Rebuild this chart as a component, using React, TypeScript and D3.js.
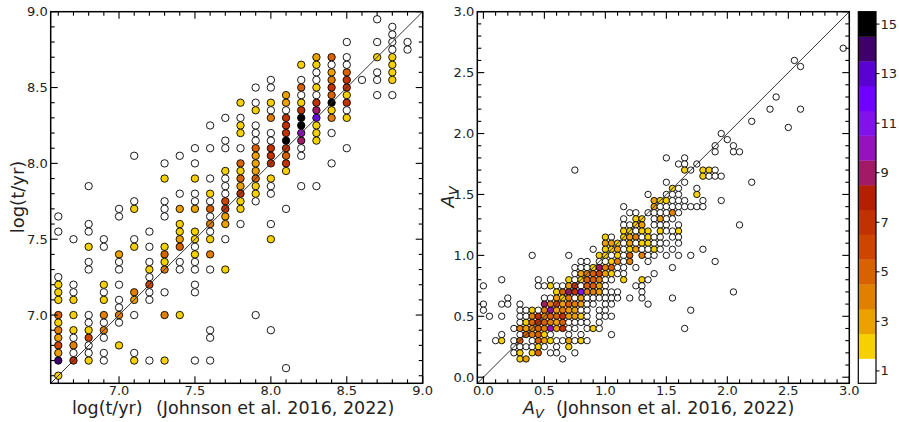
import React from 'react';
import * as d3 from 'd3';

// Age comparison: [log t (Johnson), log t (this work), number of clusters]
const agePoints: [number, number, number][] = [
  [6.6, 7.65, 1], [6.6, 7.55, 1], [6.6, 7.25, 1], [6.6, 7.2, 2], [6.6, 7.15, 2], [6.6, 7.1, 2], [6.6, 7.0, 5], [6.6, 6.95, 2], [6.6, 6.9, 4], [6.6, 6.85, 3], [6.6, 6.8, 6], [6.6, 6.75, 3], [6.6, 6.7, 14], [6.6, 6.6, 2],
  [6.7, 7.5, 1], [6.7, 7.2, 1], [6.7, 7.15, 1], [6.7, 7.1, 2], [6.7, 7.0, 2], [6.7, 6.9, 2], [6.7, 6.85, 1], [6.7, 6.8, 4], [6.7, 6.75, 1], [6.7, 6.7, 7],
  [6.8, 7.85, 1], [6.8, 7.6, 1], [6.8, 7.55, 1], [6.8, 7.45, 2], [6.8, 7.35, 1], [6.8, 7.3, 1], [6.8, 7.0, 1], [6.8, 6.95, 1], [6.8, 6.9, 2], [6.8, 6.85, 6], [6.8, 6.8, 1], [6.8, 6.75, 1], [6.8, 6.7, 2],
  [6.9, 7.5, 1], [6.9, 7.45, 1], [6.9, 7.2, 2], [6.9, 7.15, 1], [6.9, 7.1, 2], [6.9, 7.0, 4], [6.9, 6.95, 1], [6.9, 6.9, 4], [6.9, 6.85, 1], [6.9, 6.75, 1], [6.9, 6.7, 1],
  [7.0, 7.7, 1], [7.0, 7.65, 1], [7.0, 7.4, 3], [7.0, 7.35, 1], [7.0, 7.3, 1], [7.0, 7.2, 1], [7.0, 7.1, 1], [7.0, 7.05, 1], [7.0, 7.0, 4], [7.0, 6.95, 1], [7.0, 6.8, 2],
  [7.1, 8.05, 1], [7.1, 7.75, 1], [7.1, 7.7, 2], [7.1, 7.5, 1], [7.1, 7.45, 2], [7.1, 7.15, 4], [7.1, 7.1, 3], [7.1, 7.0, 1], [7.1, 6.75, 1], [7.1, 6.7, 2],
  [7.2, 7.55, 1], [7.2, 7.45, 1], [7.2, 7.35, 1], [7.2, 7.3, 2], [7.2, 7.25, 1], [7.2, 7.2, 6], [7.2, 7.15, 1], [7.2, 7.1, 1], [7.2, 6.7, 1],
  [7.3, 8.0, 1], [7.3, 7.9, 2], [7.3, 7.75, 1], [7.3, 7.7, 1], [7.3, 7.65, 1], [7.3, 7.45, 2], [7.3, 7.4, 5], [7.3, 7.35, 2], [7.3, 7.3, 4], [7.3, 7.15, 1], [7.3, 7.0, 4], [7.3, 6.7, 2],
  [7.4, 8.05, 1], [7.4, 7.8, 1], [7.4, 7.7, 3], [7.4, 7.6, 2], [7.4, 7.55, 2], [7.4, 7.5, 3], [7.4, 7.45, 5], [7.4, 7.35, 1], [7.4, 7.3, 1], [7.4, 7.0, 2],
  [7.5, 8.1, 1], [7.5, 8.0, 1], [7.5, 7.9, 2], [7.5, 7.8, 1], [7.5, 7.75, 1], [7.5, 7.7, 3], [7.5, 7.55, 2], [7.5, 7.5, 2], [7.5, 7.45, 1], [7.5, 7.4, 2], [7.5, 7.35, 1], [7.5, 7.3, 1], [7.5, 7.2, 1], [7.5, 7.15, 1], [7.5, 6.7, 1],
  [7.6, 8.25, 1], [7.6, 8.1, 1], [7.6, 7.9, 1], [7.6, 7.8, 2], [7.6, 7.75, 1], [7.6, 7.7, 5], [7.6, 7.65, 1], [7.6, 7.6, 4], [7.6, 7.55, 1], [7.6, 7.5, 2], [7.6, 7.4, 4], [7.6, 7.3, 1], [7.6, 6.9, 1], [7.6, 6.85, 1], [7.6, 6.7, 1],
  [7.7, 8.3, 1], [7.7, 8.15, 1], [7.7, 8.1, 1], [7.7, 7.95, 2], [7.7, 7.9, 1], [7.7, 7.85, 1], [7.7, 7.8, 1], [7.7, 7.75, 6], [7.7, 7.7, 7], [7.7, 7.65, 3], [7.7, 7.6, 3], [7.7, 7.5, 1], [7.7, 7.3, 2],
  [7.8, 8.4, 2], [7.8, 8.3, 1], [7.8, 8.25, 2], [7.8, 8.2, 2], [7.8, 8.1, 1], [7.8, 8.0, 5], [7.8, 7.95, 2], [7.8, 7.9, 5], [7.8, 7.85, 3], [7.8, 7.8, 7], [7.8, 7.75, 2], [7.8, 7.7, 2], [7.8, 7.6, 1],
  [7.9, 8.5, 1], [7.9, 8.4, 1], [7.9, 8.35, 2], [7.9, 8.25, 1], [7.9, 8.2, 1], [7.9, 8.15, 1], [7.9, 8.1, 5], [7.9, 8.05, 3], [7.9, 8.0, 3], [7.9, 7.95, 3], [7.9, 7.9, 5], [7.9, 7.85, 2], [7.9, 7.8, 2], [7.9, 7.75, 1], [7.9, 7.0, 1],
  [8.0, 8.55, 1], [8.0, 8.5, 1], [8.0, 8.4, 2], [8.0, 8.35, 1], [8.0, 8.3, 4], [8.0, 8.2, 1], [8.0, 8.15, 1], [8.0, 8.1, 7], [8.0, 8.05, 7], [8.0, 8.0, 7], [8.0, 7.9, 2], [8.0, 7.85, 1], [8.0, 7.8, 1], [8.0, 7.6, 1], [8.0, 7.5, 2], [8.0, 6.9, 1],
  [8.1, 8.45, 3], [8.1, 8.4, 3], [8.1, 8.35, 1], [8.1, 8.3, 7], [8.1, 8.25, 7], [8.1, 8.2, 7], [8.1, 8.15, 15], [8.1, 8.1, 7], [8.1, 8.05, 5], [8.1, 8.0, 7], [8.1, 7.95, 2], [8.1, 7.7, 1], [8.1, 6.65, 1],
  [8.2, 8.65, 2], [8.2, 8.55, 1], [8.2, 8.5, 5], [8.2, 8.45, 1], [8.2, 8.4, 2], [8.2, 8.35, 7], [8.2, 8.3, 15], [8.2, 8.25, 15], [8.2, 8.2, 10], [8.2, 8.15, 9], [8.2, 8.1, 1], [8.2, 8.05, 1], [8.2, 7.85, 1],
  [8.3, 8.7, 3], [8.3, 8.65, 2], [8.3, 8.6, 1], [8.3, 8.55, 1], [8.3, 8.5, 2], [8.3, 8.45, 1], [8.3, 8.4, 7], [8.3, 8.35, 9], [8.3, 8.3, 12], [8.3, 8.25, 2], [8.3, 8.2, 2], [8.3, 8.15, 2], [8.3, 7.85, 1],
  [8.4, 8.7, 5], [8.4, 8.65, 1], [8.4, 8.6, 3], [8.4, 8.55, 4], [8.4, 8.5, 7], [8.4, 8.45, 5], [8.4, 8.4, 15], [8.4, 8.35, 2], [8.4, 8.3, 4], [8.4, 8.2, 1], [8.4, 8.0, 1],
  [8.5, 8.8, 1], [8.5, 8.7, 1], [8.5, 8.65, 1], [8.5, 8.6, 5], [8.5, 8.55, 7], [8.5, 8.5, 7], [8.5, 8.45, 2], [8.5, 8.4, 7], [8.5, 8.35, 1], [8.5, 8.3, 2], [8.5, 8.1, 1],
  [8.6, 8.55, 1],
  [8.7, 8.95, 1], [8.7, 8.8, 1], [8.7, 8.7, 2], [8.7, 8.6, 1], [8.7, 8.55, 1], [8.7, 8.45, 1],
  [8.8, 8.9, 1], [8.8, 8.85, 1], [8.8, 8.8, 1], [8.8, 8.75, 1], [8.8, 8.7, 2], [8.8, 8.65, 2], [8.8, 8.6, 2], [8.8, 8.55, 2], [8.8, 8.45, 1],
  [8.9, 8.8, 1], [8.9, 8.75, 1],
];

// Extinction comparison: [A_V (Johnson), A_V (this work), number of clusters]
const avPoints: [number, number, number][] = [
  [2.95, 2.7, 1], [2.55, 2.6, 1], [2.6, 2.55, 1], [2.4, 2.3, 1], [2.35, 2.2, 1], [2.6, 2.2, 1], [2.2, 2.1, 1], [2.5, 2.05, 1],
  [1.95, 2.0, 1], [2.0, 1.95, 1], [1.9, 1.9, 1], [2.05, 1.9, 1], [1.9, 1.85, 1], [2.05, 1.85, 1], [2.1, 1.85, 1],
  [1.5, 1.8, 1], [1.65, 1.8, 1], [1.6, 1.75, 1], [1.65, 1.75, 1], [1.75, 1.75, 1],
  [0.75, 1.7, 1], [1.65, 1.7, 2], [1.7, 1.7, 1], [1.8, 1.7, 2], [1.85, 1.7, 2], [1.9, 1.7, 1],
  [1.8, 1.65, 2], [1.85, 1.65, 1], [1.9, 1.65, 1], [1.95, 1.65, 1],
  [1.5, 1.6, 1], [1.65, 1.6, 1], [2.2, 1.6, 1],
  [1.55, 1.55, 2], [1.6, 1.55, 1], [1.75, 1.55, 1],
  [1.35, 1.5, 1], [1.5, 1.5, 1], [1.55, 1.5, 1], [1.6, 1.5, 1], [1.75, 1.5, 2],
  [1.4, 1.45, 3], [1.45, 1.45, 2], [1.5, 1.45, 2], [1.55, 1.45, 1], [1.6, 1.45, 1], [1.65, 1.45, 1], [1.8, 1.45, 1], [1.95, 1.45, 1],
  [1.15, 1.4, 1], [1.4, 1.4, 3], [1.45, 1.4, 1], [1.5, 1.4, 1], [1.55, 1.4, 1], [1.6, 1.4, 1], [1.65, 1.4, 1], [1.7, 1.4, 1], [1.75, 1.4, 1], [1.8, 1.4, 1],
  [1.2, 1.35, 1], [1.25, 1.35, 1], [1.35, 1.35, 1], [1.4, 1.35, 1], [1.45, 1.35, 1], [1.5, 1.35, 1], [1.55, 1.35, 4], [1.6, 1.35, 1],
  [1.15, 1.3, 1], [1.25, 1.3, 2], [1.3, 1.3, 2], [1.4, 1.3, 1], [1.45, 1.3, 3], [1.5, 1.3, 1], [1.55, 1.3, 1],
  [1.15, 1.25, 1], [1.2, 1.25, 1], [1.25, 1.25, 2], [1.3, 1.25, 3], [1.4, 1.25, 1], [1.45, 1.25, 1], [1.5, 1.25, 1], [1.6, 1.25, 1], [2.1, 1.25, 1],
  [1.15, 1.2, 2], [1.2, 1.2, 2], [1.25, 1.2, 1], [1.3, 1.2, 2], [1.35, 1.2, 2], [1.45, 1.2, 2], [1.5, 1.2, 1], [1.55, 1.2, 1], [1.6, 1.2, 2],
  [1.0, 1.15, 2], [1.05, 1.15, 1], [1.15, 1.15, 2], [1.2, 1.15, 3], [1.25, 1.15, 4], [1.3, 1.15, 1], [1.35, 1.15, 2], [1.4, 1.15, 1], [1.45, 1.15, 1], [1.55, 1.15, 1], [1.6, 1.15, 1],
  [1.0, 1.1, 3], [1.05, 1.1, 3], [1.1, 1.1, 2], [1.15, 1.1, 1], [1.2, 1.1, 3], [1.25, 1.1, 1], [1.3, 1.1, 2], [1.35, 1.1, 2], [1.4, 1.1, 1], [1.45, 1.1, 1], [1.5, 1.1, 1], [1.6, 1.1, 1],
  [0.9, 1.05, 1], [1.0, 1.05, 2], [1.05, 1.05, 2], [1.1, 1.05, 3], [1.15, 1.05, 1], [1.2, 1.05, 2], [1.25, 1.05, 3], [1.3, 1.05, 1], [1.35, 1.05, 1], [1.4, 1.05, 2], [1.45, 1.05, 1], [1.55, 1.05, 1], [1.8, 1.05, 1],
  [0.4, 1.0, 1], [0.7, 1.0, 1], [0.95, 1.0, 2], [1.0, 1.0, 2], [1.05, 1.0, 1], [1.1, 1.0, 2], [1.15, 1.0, 1], [1.2, 1.0, 5], [1.3, 1.0, 4], [1.35, 1.0, 1], [1.4, 1.0, 1], [1.5, 1.0, 1], [1.6, 1.0, 1], [1.7, 1.0, 1],
  [0.8, 0.95, 1], [0.85, 0.95, 1], [0.95, 0.95, 1], [1.0, 0.95, 1], [1.05, 0.95, 2], [1.1, 0.95, 4], [1.15, 0.95, 1], [1.2, 0.95, 4], [1.35, 0.95, 1], [1.9, 0.95, 1],
  [0.75, 0.9, 1], [0.8, 0.9, 1], [0.85, 0.9, 1], [0.9, 0.9, 2], [0.95, 0.9, 9], [1.0, 0.9, 4], [1.05, 0.9, 5], [1.1, 0.9, 1], [1.15, 0.9, 1], [1.25, 0.9, 1], [1.55, 0.9, 1],
  [0.75, 0.85, 1], [0.8, 0.85, 3], [0.85, 0.85, 4], [0.9, 0.85, 5], [0.95, 0.85, 6], [1.0, 0.85, 3], [1.05, 0.85, 2], [1.1, 0.85, 1], [1.15, 0.85, 1], [1.4, 0.85, 1],
  [0.15, 0.8, 1], [0.45, 0.8, 1], [0.55, 0.8, 1], [0.7, 0.8, 2], [0.75, 0.8, 1], [0.8, 0.8, 2], [0.85, 0.8, 5], [0.9, 0.8, 5], [0.95, 0.8, 4], [1.0, 0.8, 1], [1.05, 0.8, 1], [1.15, 0.8, 2], [1.3, 0.8, 2], [1.35, 0.8, 1],
  [0.0, 0.75, 1], [0.45, 0.75, 1], [0.5, 0.75, 1], [0.55, 0.75, 2], [0.6, 0.75, 1], [0.65, 0.75, 1], [0.7, 0.75, 3], [0.75, 0.75, 7], [0.8, 0.75, 1], [0.85, 0.75, 5], [0.9, 0.75, 5], [0.95, 0.75, 3], [1.0, 0.75, 1], [1.25, 0.75, 1], [1.3, 0.75, 1],
  [0.6, 0.7, 2], [0.65, 0.7, 5], [0.7, 0.7, 9], [0.75, 0.7, 7], [0.8, 0.7, 11], [0.85, 0.7, 4], [0.9, 0.7, 4], [0.95, 0.7, 3], [1.0, 0.7, 1], [1.05, 0.7, 1], [1.1, 0.7, 1], [1.3, 0.7, 1], [2.05, 0.7, 1],
  [0.2, 0.65, 1], [0.5, 0.65, 1], [0.55, 0.65, 1], [0.6, 0.65, 3], [0.65, 0.65, 2], [0.7, 0.65, 4], [0.75, 0.65, 1], [0.8, 0.65, 3], [0.85, 0.65, 1], [0.9, 0.65, 1], [0.95, 0.65, 1], [1.0, 0.65, 1], [1.05, 0.65, 1], [1.1, 0.65, 1], [1.2, 0.65, 1], [1.3, 0.65, 1], [1.55, 0.65, 1],
  [0.0, 0.6, 1], [0.15, 0.6, 1], [0.2, 0.6, 1], [0.3, 0.6, 1], [0.5, 0.6, 9], [0.55, 0.6, 4], [0.6, 0.6, 6], [0.65, 0.6, 3], [0.7, 0.6, 5], [0.75, 0.6, 4], [0.8, 0.6, 3], [0.85, 0.6, 1], [0.9, 0.6, 1], [1.0, 0.6, 1], [1.05, 0.6, 1], [1.35, 0.6, 1],
  [0.0, 0.55, 1], [0.3, 0.55, 1], [0.35, 0.55, 1], [0.4, 0.55, 2], [0.45, 0.55, 1], [0.5, 0.55, 4], [0.55, 0.55, 10], [0.6, 0.55, 3], [0.65, 0.55, 4], [0.7, 0.55, 3], [0.75, 0.55, 3], [0.8, 0.55, 1], [0.85, 0.55, 1], [0.95, 0.55, 1], [1.0, 0.55, 1], [1.7, 0.55, 1],
  [0.05, 0.5, 1], [0.15, 0.5, 1], [0.3, 0.5, 1], [0.35, 0.5, 1], [0.4, 0.5, 4], [0.45, 0.5, 7], [0.5, 0.5, 4], [0.55, 0.5, 5], [0.6, 0.5, 5], [0.65, 0.5, 7], [0.7, 0.5, 3], [0.75, 0.5, 3], [0.8, 0.5, 2], [0.85, 0.5, 1], [0.95, 0.5, 1], [1.0, 0.5, 1], [1.05, 0.5, 1],
  [0.3, 0.45, 1], [0.35, 0.45, 2], [0.4, 0.45, 5], [0.45, 0.45, 7], [0.5, 0.45, 5], [0.55, 0.45, 4], [0.6, 0.45, 3], [0.65, 0.45, 5], [0.7, 0.45, 1], [0.75, 0.45, 1], [0.8, 0.45, 1], [0.85, 0.45, 1], [0.95, 0.45, 1],
  [0.25, 0.4, 1], [0.3, 0.4, 4], [0.35, 0.4, 3], [0.4, 0.4, 4], [0.45, 0.4, 5], [0.5, 0.4, 4], [0.55, 0.4, 10], [0.6, 0.4, 3], [0.65, 0.4, 7], [0.7, 0.4, 1], [0.75, 0.4, 1], [0.85, 0.4, 1], [0.9, 0.4, 2], [0.95, 0.4, 1], [1.65, 0.4, 1],
  [0.15, 0.35, 1], [0.3, 0.35, 1], [0.35, 0.35, 5], [0.4, 0.35, 4], [0.45, 0.35, 5], [0.5, 0.35, 2], [0.55, 0.35, 1], [0.7, 0.35, 1], [0.8, 0.35, 1], [1.05, 0.35, 1],
  [0.1, 0.3, 1], [0.15, 0.3, 2], [0.25, 0.3, 1], [0.3, 0.3, 5], [0.4, 0.3, 1], [0.45, 0.3, 5], [0.5, 0.3, 3], [0.55, 0.3, 2], [0.6, 0.3, 1], [0.65, 0.3, 1], [0.7, 0.3, 3], [0.75, 0.3, 1], [0.8, 0.3, 2], [0.85, 0.3, 1],
  [0.25, 0.25, 1], [0.3, 0.25, 1], [0.35, 0.25, 1], [0.4, 0.25, 1], [0.45, 0.25, 2], [0.5, 0.25, 1], [0.6, 0.25, 1], [0.7, 0.25, 2],
  [0.25, 0.2, 1], [0.3, 0.2, 2], [0.4, 0.2, 2], [0.45, 0.2, 5], [0.55, 0.2, 1], [0.6, 0.2, 1], [0.75, 0.2, 1],
  [0.3, 0.15, 2], [0.35, 0.15, 3], [0.65, 0.15, 1],
];

// Discrete colour scale for counts 1..15
const countColors = [
  '#ffffff', '#f6d000', '#eca100', '#e17f00', '#d86200', '#cc4600', '#c03200', '#b22000',
  '#a21a66', '#9612bc', '#8410ea', '#7000ff', '#5a02d2', '#3f006e', '#000000',
];
const countLevels = d3.range(1, 16);
const countTicks = [1, 3, 5, 7, 9, 11, 13, 15];

const ageMajor = [7.0, 7.5, 8.0, 8.5, 9.0];
const ageMinor = d3.range(66, 91).map((v) => v / 10);
const avMajor = [0.0, 0.5, 1.0, 1.5, 2.0, 2.5, 3.0];
const avMinor = d3.range(0, 31).map((v) => v / 10);

const FONT = 'DejaVu Sans, sans-serif';
const TOP = 11.7;
const BOTTOM = 383.3;

type PanelProps = {
  x0: number;
  x1: number;
  domain: [number, number];
  points: [number, number, number][];
  major: number[];
  minor: number[];
  radius: number;
};

function Panel({ x0, x1, domain, points, major, minor, radius }: PanelProps) {
  const xs = d3.scaleLinear().domain(domain).range([x0, x1]);
  const ys = d3.scaleLinear().domain(domain).range([BOTTOM, TOP]);
  const color = d3.scaleOrdinal<number, string>().domain(countLevels).range(countColors);
  const tickLen = (v: number) => (major.some((m) => Math.abs(m - v) < 1e-6) ? 7 : 4);
  const inX = minor.filter((v) => v >= domain[0] && v <= domain[1]);
  const fmt = d3.format('.1f');
  return (
    <g>
      {points.map(([a, b, n], i) => (
        <circle key={i} cx={xs(a)} cy={ys(b)} r={radius} fill={color(n)} stroke="#000" strokeWidth={0.9} />
      ))}
      <line x1={xs(domain[0])} y1={ys(domain[0])} x2={xs(domain[1])} y2={ys(domain[1])} stroke="#333" strokeWidth={1} />
      {inX.map((v) => (
        <g key={'t' + v} stroke="#000" strokeWidth={1.1}>
          <line x1={xs(v)} x2={xs(v)} y1={BOTTOM} y2={BOTTOM - tickLen(v)} />
          <line x1={xs(v)} x2={xs(v)} y1={TOP} y2={TOP + tickLen(v)} />
          <line y1={ys(v)} y2={ys(v)} x1={x0} x2={x0 + tickLen(v)} />
          <line y1={ys(v)} y2={ys(v)} x1={x1} x2={x1 - tickLen(v)} />
        </g>
      ))}
      <rect x={x0} y={TOP} width={x1 - x0} height={BOTTOM - TOP} fill="none" stroke="#000" strokeWidth={1.5} />
      {major.map((v) => (
        <g key={'l' + v} fontFamily={FONT} fontSize={13} fill="#222">
          <text x={xs(v)} y={BOTTOM + 12} textAnchor="middle">{fmt(v)}</text>
          <text x={x0 - 3} y={ys(v) + 4.5} textAnchor="end">{fmt(v)}</text>
        </g>
      ))}
    </g>
  );
}

export default function App() {
  const cbX0 = 858.3;
  const cbX1 = 876;
  const cbScale = d3.scaleLinear().domain([0.5, 15.5]).range([BOTTOM, TOP]);
  const cbColor = d3.scaleOrdinal<number, string>().domain(countLevels).range(countColors);
  return (
    <svg width={899} height={422} style={{ position: 'absolute', left: 0, top: 0, background: '#fff' }}>
      <rect width={899} height={422} fill="#fff" />
      <Panel x0={50.7} x1={422.7} domain={[6.55, 9.0]} points={agePoints} major={ageMajor} minor={ageMinor} radius={3.7} />
      <Panel x0={477.3} x1={849.3} domain={[-0.05, 3.0]} points={avPoints} major={avMajor} minor={avMinor} radius={3.2} />

      {/* axis titles */}
      <text y={414} fontFamily={FONT} fontSize={17.5} fill="#222">
        <tspan x={72}>log(t/yr)</tspan>
        <tspan x={156}>(Johnson et al. 2016, 2022)</tspan>
      </text>
      <text transform="translate(24,197) rotate(-90)" textAnchor="middle" fontFamily={FONT} fontSize={18} fill="#222">
        log(t/yr)
      </text>
      <text x={523} y={414} fontFamily={FONT} fontSize={17.5} fill="#222">
        <tspan fontStyle="italic">A</tspan>
        <tspan fontStyle="italic" fontSize={13} dy={4}>V</tspan>
        <tspan x={556} dy={-4}>(Johnson et al. 2016, 2022)</tspan>
      </text>
      <text transform="translate(454,197) rotate(-90)" textAnchor="middle" fontFamily={FONT} fontSize={18} fill="#222">
        <tspan fontStyle="italic">A</tspan>
        <tspan fontStyle="italic" fontSize={13} dy={4}>V</tspan>
      </text>

      {/* colour bar */}
      {countLevels.map((n) => (
        <rect key={n} x={cbX0} y={cbScale(n + 0.5)} width={cbX1 - cbX0} height={cbScale(n - 0.5) - cbScale(n + 0.5) + 0.3} fill={cbColor(n)} />
      ))}
      <rect x={cbX0} y={TOP} width={cbX1 - cbX0} height={BOTTOM - TOP} fill="none" stroke="#000" strokeWidth={1.2} />
      {countTicks.map((t) => (
        <g key={t}>
          <line x1={cbX1} x2={cbX1 + 3.5} y1={cbScale(t)} y2={cbScale(t)} stroke="#000" strokeWidth={1} />
          <text x={cbX1 + 4.5} y={cbScale(t) + 4.5} fontFamily={FONT} fontSize={13} fill="#222">{t}</text>
        </g>
      ))}
    </svg>
  );
}
